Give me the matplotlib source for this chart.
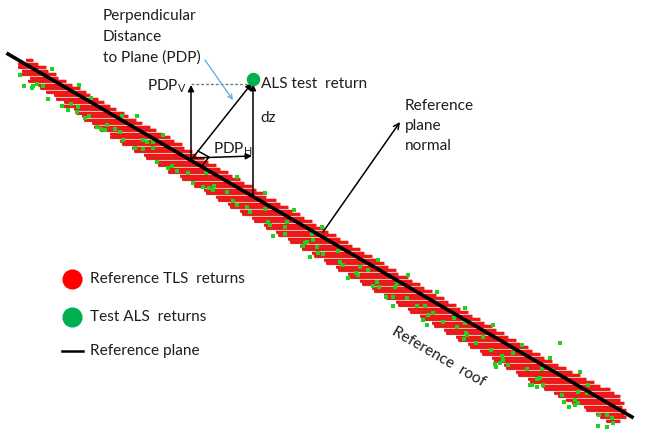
import matplotlib
matplotlib.use("Agg")
import matplotlib.pyplot as plt
import matplotlib.patheffects as pe

plt.rcParams['font.family'] = ['Lato', 'DejaVu Sans']
plt.rcParams['mathtext.fontset'] = 'custom'
plt.rcParams['mathtext.rm'] = 'Lato'

# reference TLS returns: horizontal scan rows (image pixel coords)
red_y = [60, 63.5, 67, 70.5, 74, 77.5, 81, 84.5, 88, 91.5, 95, 98.5, 102, 105.5,
         109, 112.5, 116, 119.5, 123, 126.5, 130, 133.5, 137, 140.5, 144, 147.5,
         151, 154.5, 158, 161.5, 165, 168.5, 172, 175.5, 179, 182.5, 186, 189.5,
         193, 196.5, 200, 203.5, 207, 210.5, 214, 217.5, 221, 224.5, 228, 231.5,
         235, 238.5, 242, 245.5, 249, 252.5, 256, 259.5, 263, 266.5, 270, 273.5,
         277, 280.5, 284, 287.5, 291, 294.5, 298, 301.5, 305, 308.5, 312, 315.5,
         319, 322.5, 326, 329.5, 333, 336.5, 340, 343.5, 347, 350.5, 354, 357.5,
         361, 364.5, 368, 371.5, 375, 378.5, 382, 385.5, 389, 392.5, 396, 399.5,
         403, 406.5, 410, 413.5, 417, 420.5]
red_x0 = [26, 18, 18, 22, 20, 30, 28, 38, 40, 46, 54, 56, 64, 62, 74, 76, 82, 84,
          92, 94, 100, 110, 110, 120, 122, 132, 134, 144, 146, 156, 158, 168, 168,
          180, 182, 192, 194, 204, 206, 216, 218, 228, 230, 240, 242, 252, 254,
          264, 266, 276, 278, 288, 290, 300, 302, 312, 314, 324, 326, 336, 338,
          348, 350, 360, 362, 372, 374, 384, 386, 396, 398, 408, 410, 420, 422,
          432, 434, 444, 446, 456, 458, 468, 470, 480, 482, 492, 494, 504, 506,
          516, 518, 528, 530, 542, 544, 554, 558, 566, 572, 584, 586, 596, 600,
          606]
red_x1 = [33, 38, 46, 48, 56, 58, 66, 72, 80, 86, 90, 98, 104, 110, 116, 124, 128,
          136, 142, 150, 156, 162, 170, 174, 182, 184, 192, 196, 204, 208, 216,
          220, 228, 232, 240, 244, 252, 256, 264, 266, 276, 280, 288, 292, 300,
          304, 312, 316, 324, 328, 336, 340, 348, 352, 360, 364, 372, 376, 384,
          388, 396, 398, 408, 412, 420, 424, 432, 436, 444, 448, 456, 460, 468,
          472, 480, 484, 492, 496, 504, 508, 516, 520, 528, 532, 540, 544, 552,
          558, 566, 572, 580, 586, 594, 600, 610, 614, 620, 620, 624, 622, 626,
          624, 626, 620]

# test ALS returns
green_x = [52, 20, 24, 33, 32, 37, 43, 48, 62, 68, 71, 78, 79, 77, 91, 85, 89, 97,
           101, 105, 107, 115, 120, 137, 122, 135, 143, 153, 157, 123, 143, 153,
           163, 147, 168, 172, 177, 188, 193, 203, 209, 214, 213, 206, 227, 233,
           237, 237, 247, 250, 265, 265, 270, 268, 285, 287, 294, 273, 285, 305,
           303, 313, 317, 322, 307, 312, 310, 318, 323, 340, 338, 343, 348, 356,
           360, 358, 368, 378, 377, 373, 379, 386, 393, 393, 395, 397, 408, 407,
           417, 425, 428, 433, 423, 427, 437, 443, 454, 465, 465, 457, 493, 466,
           467, 464, 476, 483, 491, 502, 503, 513, 522, 495, 500, 496, 508, 527,
           542, 550, 537, 540, 530, 532, 537, 543, 562, 564, 569, 575, 575, 578,
           560, 580, 578, 599, 607, 612, 613, 598, 607, 588, 587, 552]
green_y = [69, 75, 86, 86, 88, 84, 86, 99, 106, 110, 104, 107, 85, 112, 98, 118,
           116, 127, 129, 130, 125, 129, 132, 116, 116, 148, 149, 148, 162, 140,
           140, 142, 135, 142, 168, 166, 171, 173, 183, 187, 188, 186, 190, 173,
           192, 201, 205, 177, 207, 212, 193, 209, 225, 222, 227, 222, 210, 236,
           234, 243, 246, 240, 247, 227, 242, 234, 257, 253, 254, 262, 251, 265,
           278, 273, 267, 275, 270, 260, 282, 286, 287, 297, 297, 306, 287, 283,
           275, 298, 306, 306, 315, 313, 320, 325, 292, 322, 318, 308, 323, 327,
           325, 333, 335, 339, 343, 337, 350, 356, 360, 353, 345, 364, 363, 367,
           365, 369, 369, 358, 379, 378, 385, 385, 387, 385, 395, 402, 407, 405,
           400, 403, 343, 372, 392, 415, 415, 418, 423, 426, 427, 385, 393, 370]

# reference plane end points
plane_x = [8, 632]
plane_y = [54, 417]

# construction: base on plane, ALS test return, normal arrow
base = (191, 160)
als = (253, 79)
normal_start, normal_end = (323, 232), (400, 122)

fig = plt.figure(figsize=(6.46, 4.30), dpi=100)
ax = fig.add_axes([0, 0, 1, 1])
ax.set_xlim(0, 646)
ax.set_ylim(430, 0)
ax.axis('off')

rows = ax.hlines(red_y, red_x0, red_x1, colors='#ff1010', linewidth=1.7, zorder=2)
rows.set_path_effects([pe.Stroke(linewidth=2.3, foreground='#b83a3a'), pe.Normal()])
ax.scatter(green_x, green_y, s=7, marker='s', color='#1fd21f', linewidths=0, zorder=3)
ax.plot(plane_x, plane_y, color='black', linewidth=2.6, zorder=4)

txt = '#1e1e1e'
fs = 11.1
arrow = dict(arrowstyle='-|>', color='black', lw=1.1, mutation_scale=9,
             shrinkA=0, shrinkB=0)

# vertical PDP component
ax.annotate('', xy=(base[0], als[1] + 6), xytext=base, arrowprops=arrow, zorder=5)
# horizontal PDP component
ax.annotate('', xy=(als[0] - 1, 156), xytext=(base[0] + 3, 158), arrowprops=arrow, zorder=5)
# PDP vector
ax.annotate('', xy=(als[0] - 1, als[1] + 4), xytext=base, arrowprops=arrow, zorder=5)
# dz
ax.annotate('', xy=(als[0], als[1] + 5), xytext=(als[0], 196), arrowprops=arrow, zorder=5)
ax.plot([base[0], als[0] - 3], [84, 84], color='#777777', lw=1, ls=(0, (2, 1.5)), zorder=5)

# right angle marker
ax.plot([198, 209, 202], [151, 157, 166], color='black', lw=1.1, zorder=5)

ax.scatter([als[0]], [als[1]], s=75, color='#00b050', zorder=6)

# reference plane normal
ax.annotate('', xy=normal_end, xytext=normal_start,
            arrowprops=dict(arrowstyle='->', color='black', lw=1.1, mutation_scale=10,
                            shrinkA=0, shrinkB=0), zorder=5)

# pointer from the label
ax.annotate('', xy=(233, 100), xytext=(205, 60),
            arrowprops=dict(arrowstyle='->', color='#4fb0e0', lw=0.9, mutation_scale=8,
                            shrinkA=0, shrinkB=0), zorder=5)

for label, yy in zip(['Perpendicular', 'Distance', 'to Plane (PDP)'], [16, 37, 58]):
    ax.text(103, yy, label, ha='left', va='center', fontsize=fs, color=txt)
for label, yy in zip(['Reference', 'plane', 'normal'], [106, 126, 146]):
    ax.text(405, yy, label, ha='left', va='center', fontsize=fs, color=txt)
ax.text(187, 86, r'PDP$_\mathrm{V}$', ha='right', va='center', fontsize=fs, color=txt)
ax.text(213, 149, r'PDP$_\mathrm{H}$', ha='left', va='center', fontsize=fs, color=txt)
ax.text(261, 84, 'ALS test  return', ha='left', va='center', fontsize=fs, color=txt)
ax.text(260, 118, 'dz', ha='left', va='center', fontsize=fs, color=txt)
ax.text(439, 357, 'Reference  roof', ha='center', va='center', rotation=-30,
        fontsize=fs, color=txt)

# legend
ax.plot([72], [279], 'o', ms=13.5, color='#ff0000')
ax.plot([72], [317], 'o', ms=13.5, color='#00b050')
ax.plot([62, 83], [351, 351], color='black', lw=1.8)
ax.text(90, 279, 'Reference TLS  returns', ha='left', va='center', fontsize=fs, color=txt)
ax.text(90, 317, 'Test ALS  returns', ha='left', va='center', fontsize=fs, color=txt)
ax.text(90, 351, 'Reference plane', ha='left', va='center', fontsize=fs, color=txt)

fig.savefig('out.png', dpi=100)
